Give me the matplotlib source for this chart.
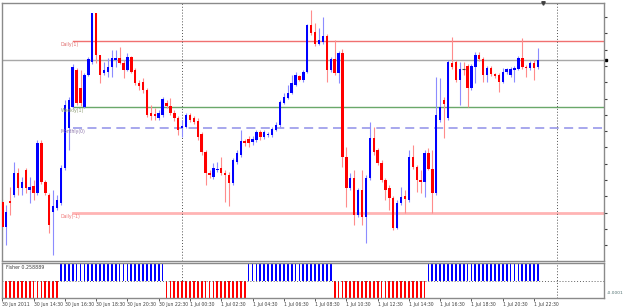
import numpy as np
import matplotlib
matplotlib.use("Agg")
import matplotlib.pyplot as plt
import matplotlib.transforms as mtransforms

# EURUSD M15, 30 Jun 12:30 .. 1 Jul 22:45
opens = [1.4448, 1.4423, 1.4449, 1.4455, 1.4477, 1.4462, 1.4480, 1.4460, 1.4464, 1.4457,
         1.4507, 1.4468, 1.4455, 1.4438, 1.4442, 1.4447, 1.4482, 1.4522, 1.4543, 1.4580,
         1.4562, 1.4543, 1.4575, 1.4588, 1.4637, 1.4595, 1.4577, 1.4578, 1.4583, 1.4590,
         1.4592, 1.4587, 1.4580, 1.4593, 1.4580, 1.4567, 1.4568, 1.4560, 1.4537, 1.4536,
         1.4532, 1.4535, 1.4547, 1.4544, 1.4537, 1.4532, 1.4522, 1.4523, 1.4535, 1.4532,
         1.4529, 1.4516, 1.4498, 1.4477, 1.4473, 1.4480, 1.4482, 1.4477, 1.4475, 1.4467,
         1.4488, 1.4495, 1.4509, 1.4511, 1.4508, 1.4510, 1.4518, 1.4513, 1.4515, 1.4515,
         1.4520, 1.4525, 1.4547, 1.4552, 1.4557, 1.4565, 1.4574, 1.4570, 1.4578, 1.4625,
         1.4618, 1.4606, 1.4608, 1.4614, 1.4580, 1.4591, 1.4577, 1.4597, 1.4493, 1.4462,
         1.4472, 1.4435, 1.4460, 1.4433, 1.4472, 1.4512, 1.4500, 1.4487, 1.4470, 1.4462,
         1.4452, 1.4422, 1.4447, 1.4454, 1.4450, 1.4493, 1.4483, 1.4470, 1.4468, 1.4497,
         1.4481, 1.4457, 1.4530, 1.4550, 1.4532, 1.4587, 1.4588, 1.4570, 1.4581, 1.4584,
         1.4562, 1.4583, 1.4595, 1.4591, 1.4575, 1.4582, 1.4576, 1.4575, 1.4568, 1.4578,
         1.4575, 1.4580, 1.4581, 1.4592, 1.4583, 1.4582, 1.4587, 1.4583]
highs = [1.4451, 1.4445, 1.4463, 1.4488, 1.4482, 1.4473, 1.4482, 1.4473, 1.4470, 1.4510,
         1.4510, 1.4470, 1.4457, 1.4460, 1.4455, 1.4485, 1.4550, 1.4553, 1.4586, 1.4582,
         1.4580, 1.4577, 1.4593, 1.4637, 1.4637, 1.4595, 1.4588, 1.4592, 1.4600, 1.4600,
         1.4603, 1.4590, 1.4597, 1.4594, 1.4582, 1.4570, 1.4572, 1.4562, 1.4545, 1.4542,
         1.4540, 1.4553, 1.4550, 1.4552, 1.4540, 1.4534, 1.4530, 1.4537, 1.4537, 1.4534,
         1.4532, 1.4518, 1.4500, 1.4480, 1.4487, 1.4488, 1.4493, 1.4480, 1.4478, 1.4492,
         1.4500, 1.4520, 1.4511, 1.4514, 1.4514, 1.4520, 1.4520, 1.4520, 1.4518, 1.4523,
         1.4528, 1.4550, 1.4557, 1.4565, 1.4575, 1.4578, 1.4575, 1.4580, 1.4626, 1.4640,
         1.4627, 1.4622, 1.4633, 1.4616, 1.4593, 1.4610, 1.4599, 1.4601, 1.4503, 1.4477,
         1.4480, 1.4462, 1.4480, 1.4475, 1.4528, 1.4523, 1.4502, 1.4490, 1.4472, 1.4465,
         1.4454, 1.4450, 1.4463, 1.4460, 1.4500, 1.4505, 1.4485, 1.4480, 1.4500, 1.4502,
         1.4500, 1.4573, 1.4572, 1.4553, 1.4590, 1.4613, 1.4590, 1.4588, 1.4588, 1.4586,
         1.4586, 1.4598, 1.4598, 1.4593, 1.4584, 1.4584, 1.4577, 1.4577, 1.4582, 1.4582,
         1.4583, 1.4584, 1.4594, 1.4612, 1.4585, 1.4589, 1.4590, 1.4602]
lows = [1.4421, 1.4405, 1.4435, 1.4453, 1.4455, 1.4455, 1.4457, 1.4447, 1.4450, 1.4455,
        1.4466, 1.4455, 1.4417, 1.4395, 1.4440, 1.4445, 1.4480, 1.4500, 1.4542, 1.4545,
        1.4544, 1.4542, 1.4574, 1.4586, 1.4587, 1.4567, 1.4575, 1.4573, 1.4573, 1.4583,
        1.4586, 1.4572, 1.4579, 1.4577, 1.4565, 1.4560, 1.4557, 1.4533, 1.4530, 1.4530,
        1.4530, 1.4533, 1.4542, 1.4535, 1.4529, 1.4515, 1.4513, 1.4522, 1.4528, 1.4526,
        1.4510, 1.4495, 1.4465, 1.4472, 1.4471, 1.4478, 1.4475, 1.4448, 1.4444, 1.4465,
        1.4486, 1.4493, 1.4504, 1.4503, 1.4505, 1.4508, 1.4510, 1.4511, 1.4513, 1.4513,
        1.4519, 1.4523, 1.4546, 1.4551, 1.4556, 1.4564, 1.4569, 1.4568, 1.4577, 1.4615,
        1.4604, 1.4605, 1.4606, 1.4568, 1.4578, 1.4575, 1.4567, 1.4483, 1.4443, 1.4460,
        1.4425, 1.4433, 1.4425, 1.4407, 1.4470, 1.4495, 1.4485, 1.4468, 1.4450, 1.4440,
        1.4420, 1.4421, 1.4445, 1.4437, 1.4448, 1.4481, 1.4458, 1.4457, 1.4453, 1.4480,
        1.4437, 1.4455, 1.4528, 1.4512, 1.4530, 1.4581, 1.4568, 1.4545, 1.4575, 1.4543,
        1.4560, 1.4567, 1.4589, 1.4568, 1.4568, 1.4574, 1.4572, 1.4558, 1.4567, 1.4576,
        1.4573, 1.4568, 1.4580, 1.4581, 1.4573, 1.4580, 1.4570, 1.4581]
closes = [1.4423, 1.4438, 1.4447, 1.4477, 1.4462, 1.4468, 1.4462, 1.4463, 1.4457, 1.4507,
          1.4468, 1.4457, 1.4425, 1.4444, 1.4450, 1.4482, 1.4545, 1.4550, 1.4583, 1.4547,
          1.4547, 1.4575, 1.4591, 1.4637, 1.4595, 1.4575, 1.4580, 1.4583, 1.4592, 1.4592,
          1.4587, 1.4580, 1.4593, 1.4578, 1.4567, 1.4564, 1.4560, 1.4535, 1.4534, 1.4534,
          1.4537, 1.4551, 1.4544, 1.4537, 1.4532, 1.4520, 1.4524, 1.4535, 1.4530, 1.4528,
          1.4513, 1.4498, 1.4477, 1.4475, 1.4482, 1.4481, 1.4477, 1.4475, 1.4467, 1.4490,
          1.4497, 1.4509, 1.4507, 1.4507, 1.4511, 1.4518, 1.4513, 1.4518, 1.4516, 1.4521,
          1.4525, 1.4548, 1.4553, 1.4557, 1.4567, 1.4575, 1.4570, 1.4578, 1.4625, 1.4617,
          1.4606, 1.4610, 1.4614, 1.4580, 1.4591, 1.4577, 1.4597, 1.4493, 1.4462, 1.4472,
          1.4435, 1.4460, 1.4433, 1.4472, 1.4512, 1.4498, 1.4487, 1.4470, 1.4460, 1.4452,
          1.4422, 1.4447, 1.4453, 1.4451, 1.4493, 1.4483, 1.4470, 1.4468, 1.4497, 1.4481,
          1.4457, 1.4535, 1.4543, 1.4546, 1.4588, 1.4583, 1.4570, 1.4581, 1.4581, 1.4562,
          1.4584, 1.4595, 1.4591, 1.4575, 1.4582, 1.4576, 1.4574, 1.4568, 1.4578, 1.4581,
          1.4581, 1.4582, 1.4592, 1.4583, 1.4582, 1.4587, 1.4582, 1.4590]

# Fisher sign, as runs of (sign, bar count)
fisher_runs = [(-1, 15), (1, 27), (-1, 21), (1, 22), (-1, 24), (1, 29)]
fisher_value = "0.258889"

level_names = ["Daily(1)", "Weekly(1)", "Monthly(0)", "Daily(-1)"]
level_prices = [1.4609, 1.4543, 1.4522, 1.4437]
level_start = 18

time_labels = ["30 Jun 2011", "30 Jun 14:30", "30 Jun 16:30", "30 Jun 18:30", "30 Jun 20:30",
               "30 Jun 22:30", "1 Jul 00:30", "1 Jul 02:30", "1 Jul 04:30", "1 Jul 06:30",
               "1 Jul 08:30", "1 Jul 10:30", "1 Jul 12:30", "1 Jul 14:30", "1 Jul 16:30",
               "1 Jul 18:30", "1 Jul 20:30", "1 Jul 22:30"]
label_step = 8
day_breaks = [46, 142]

plt.rcParams['font.family'] = 'DejaVu Sans'

o = np.array(opens); h = np.array(highs); l = np.array(lows); c = np.array(closes)
x = np.arange(len(o))
fisher = np.concatenate([np.full(n, s) for s, n in fisher_runs])

W, H = 625, 307
fig = plt.figure(figsize=(W / 100, H / 100), dpi=100)
ax = fig.add_axes([2 / W, 1 - 261 / H, 602 / W, 258 / H])
ax2 = fig.add_axes([2 / W, 1 - 298 / H, 602 / W, 35 / H], sharex=ax)

xmin, xmax = -0.08, 153.9
ax.set_xlim(xmin, xmax)
ax.set_ylim(1.4389, 1.4647)

# level lines + labels
lvl_style = [dict(color='#f07070', lw=1.0),
             dict(color='#6aa86a', lw=1.0),
             dict(color='#a0a0ec', lw=1.3, ls=(0, (5, 3))),
             dict(color='#ffb4b4', lw=2.0)]
lvl_text = ['#e07070', '#8a9a70', '#8870a8', '#f07878']
for name, p, st, tc in zip(level_names, level_prices, lvl_style, lvl_text):
    ax.plot([level_start, xmax], [p, p], zorder=1, **st)
    ax.text(level_start - 3, p - 0.0001, name, fontsize=3.3, color=tc,
            ha='left', va='top', zorder=4)

# bid line
ax.axhline(c[-1], color='#a8a8a8', lw=1.0, zorder=1)

# candles
up = c > o
dn = c < o
ax.vlines(x[up], l[up], h[up], color='#8c8cff', lw=0.8, zorder=2)
ax.vlines(x[~up], l[~up], h[~up], color='#ff8c8c', lw=0.8, zorder=2)
ax.bar(x[up], c[up] - o[up], bottom=o[up], width=0.62, color='#0000ff', zorder=3)
ax.bar(x[dn], o[dn] - c[dn], bottom=c[dn], width=0.62, color='#ff0000', zorder=3)
doji = c == o
ax.hlines(o[doji], x[doji] - 0.4, x[doji] + 0.4, color='#404040', lw=0.8, zorder=3)

for a in (ax, ax2):
    for b in day_breaks:
        a.axvline(b, color='#505050', lw=0.7, ls=(0, (1, 2)), zorder=1)
    for s in a.spines.values():
        s.set_color('#8a8a8a')
        s.set_linewidth(1.0)
    a.set_facecolor('white')

# right price scale: tick marks only (labels fall outside the picture)
ax.yaxis.tick_right()
ax.set_yticks(np.arange(1.4633, 1.4389, -0.00163))
ax.set_yticklabels([])
ax.tick_params(axis='y', direction='out', length=2, width=0.8, color='#404040')
ax.tick_params(axis='x', bottom=False, labelbottom=False)

tr = mtransforms.blended_transform_factory(ax.transAxes, ax.transData)
ax.plot([1.004], [c[-1]], marker='s', ms=1.8, color='black', transform=tr, clip_on=False)
ax.plot([138.3], [1.4647], marker='v', ms=2.5, color='#404040', clip_on=False, zorder=5)

# Fisher panel
ax2.bar(x[fisher > 0], fisher[fisher > 0], width=0.45, color='#0000ff')
ax2.bar(x[fisher < 0], fisher[fisher < 0], width=0.45, color='#ff0000')
ax2.axhline(0, color='#606060', lw=0.7, ls=(0, (1, 2)))
ax2.set_ylim(-1.0, 1.0)
ax2.text(0.006, 0.87, "Fisher " + fisher_value, transform=ax2.transAxes,
         fontsize=3.4, color='#404040', ha='left', va='center')
ax2.yaxis.tick_right()
ax2.set_yticks([])
ax2.text(1.005, 0.14, "-0.0001", transform=ax2.transAxes, fontsize=3.2,
         color='#507070', ha='left', va='center', clip_on=False)

ticks = np.arange(0, len(time_labels) * label_step, label_step)
ax2.set_xticks(ticks)
ax2.set_xticklabels(time_labels, fontsize=3.3, color='#404040')
for t in ax2.get_xticklabels():
    t.set_horizontalalignment('left')
ax2.tick_params(axis='x', direction='out', length=2, width=0.6, color='#404040', pad=0.8)

fig.savefig("out.png", dpi=100, facecolor='white')
